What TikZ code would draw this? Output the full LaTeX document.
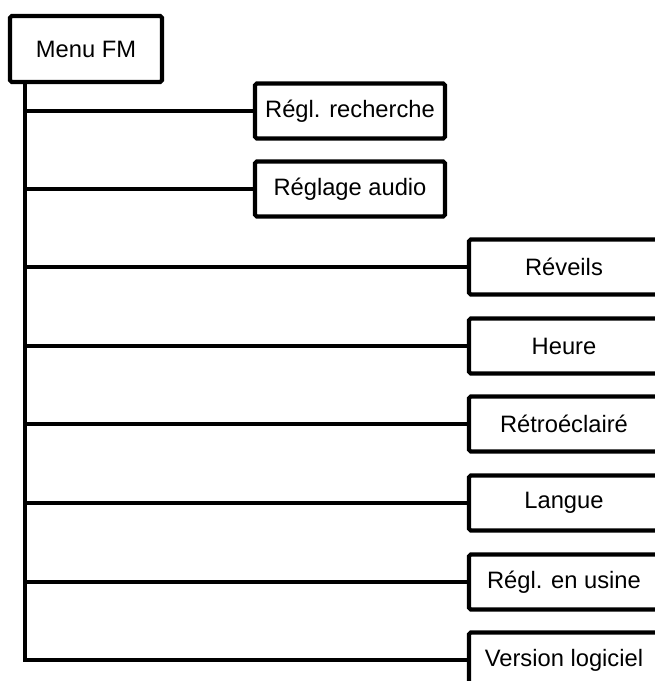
\documentclass[tikz,border=0pt]{standalone}
\usepackage{fontspec}
\setmainfont{Liberation Sans}
\usepackage{tikz}
\usetikzlibrary{positioning}

\begin{document}
\begin{tikzpicture}[
    x=0.02cm, y=-0.02cm,
    menubox/.style={
      draw=black, line width=2.3pt, rounded corners=1pt,
      fill=white, font=\fontsize{13.5}{16}\selectfont,
      minimum width=3.04cm, minimum height=1.32cm,
      inner sep=0pt, outer sep=0pt,
    },
    itembox/.style={
      draw=black, line width=2.3pt, rounded corners=1pt,
      fill=white, font=\fontsize{13.5}{16}\selectfont,
      minimum width=3.8cm, minimum height=1.1cm,
      inner sep=0pt, outer sep=0pt,
    },
    branch/.style={draw=black, line width=2.4pt},
  ]

  % Frame of the page
  \useasboundingbox (0,0) rectangle (654,681);

  % =================== ROOT ===================
  \node[menubox] (menu) at (86, 49) {Menu FM};
  \coordinate (trunk) at (25, 0);

  % =================== SUB-ITEMS ===================
  \node[itembox] (recherche) at (350, 111) {Régl. recherche};
  \node[itembox] (audio) at (350, 189) {Réglage audio};

  \node[itembox] (reveils) at (564, 267) {Réveils};
  \node[itembox] (heure) at (564, 346) {Heure};
  \node[itembox] (retro) at (564, 424) {Rétroéclairé};
  \node[itembox] (langue) at (564, 503) {Langue};
  \node[itembox] (usine) at (564, 582) {Régl. en usine};
  \node[itembox] (version) at (564, 660) {Version logiciel};

  % Trunk, down to the last item
  \draw[branch, line width=2.8pt, line join=miter] (trunk |- menu.south) -- (trunk |- version.west) -- (version.west);

  % Branches
  \draw[branch] (trunk |- recherche.west) -- (recherche.west);
  \draw[branch] (trunk |- audio.west) -- (audio.west);
  \draw[branch] (trunk |- reveils.west) -- (reveils.west);
  \draw[branch] (trunk |- heure.west) -- (heure.west);
  \draw[branch] (trunk |- retro.west) -- (retro.west);
  \draw[branch] (trunk |- langue.west) -- (langue.west);
  \draw[branch] (trunk |- usine.west) -- (usine.west);

\end{tikzpicture}
\end{document}
